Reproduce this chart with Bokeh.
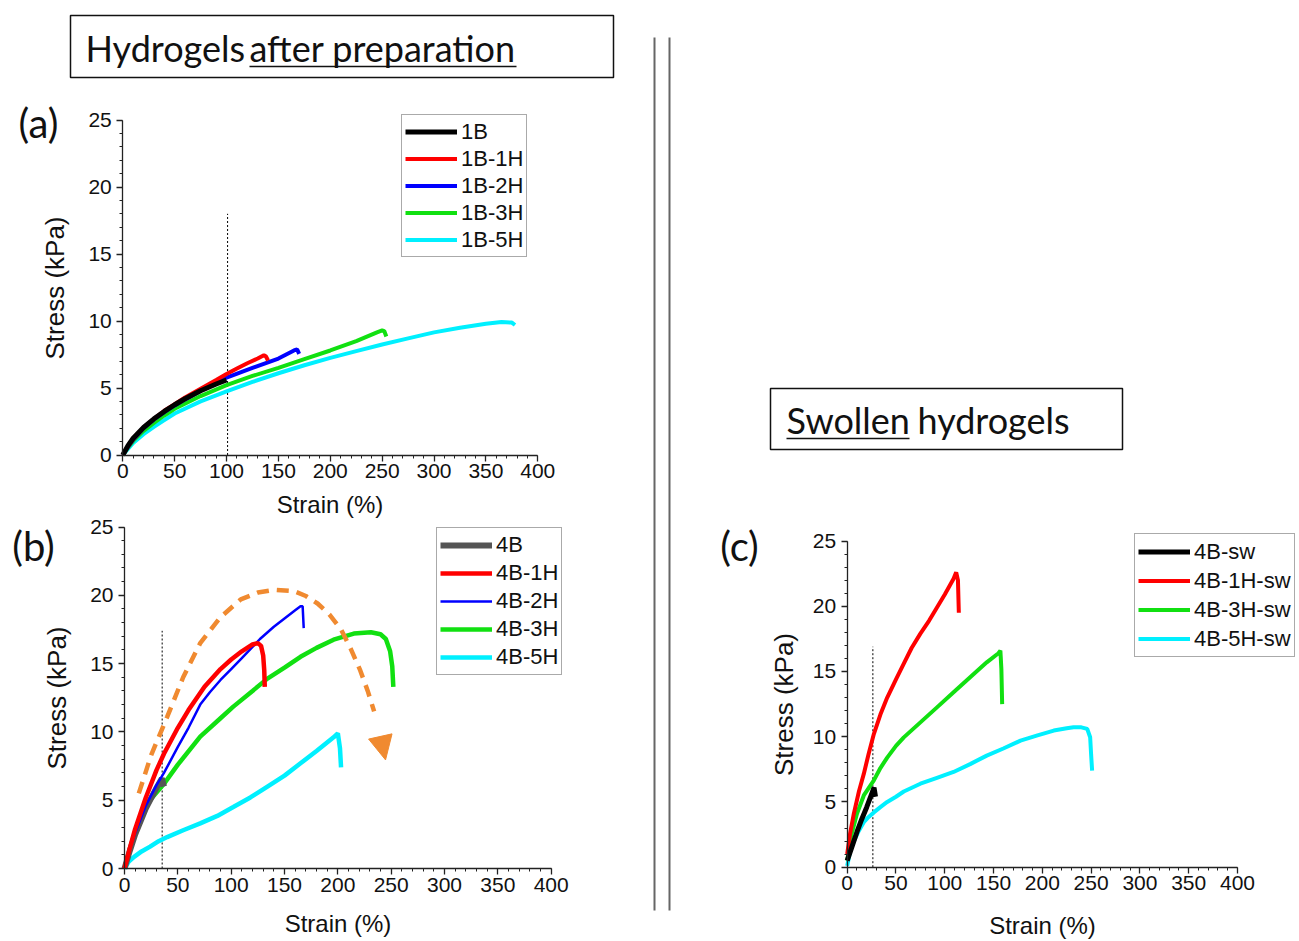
from bokeh.plotting import figure
from bokeh.models import (Range1d, SingleIntervalTicker, Legend, LegendItem, LinearAxis,
                          Arrow, NormalHead)
from bokeh.embed import file_html
from bokeh.resources import INLINE
from bokeh.core.properties import value

# ---------------- data: panel (a) hydrogels after preparation ----------------
a_1B_x = [0, 5, 10, 20, 30, 40, 50, 60, 75, 90, 100]
a_1B_y = [0, 0.7, 1.25, 2.05, 2.7, 3.25, 3.75, 4.2, 4.8, 5.3, 5.6]
a_1B1H_x = [0, 5, 10, 20, 30, 40, 50, 60, 75, 90, 100, 110, 120, 130, 136, 138, 140]
a_1B1H_y = [0, 0.65, 1.2, 2.05, 2.7, 3.3, 3.8, 4.3, 4.95, 5.6, 6.05, 6.45, 6.85, 7.2, 7.45, 7.35, 7.05]
a_1B2H_x = [0, 5, 10, 20, 30, 40, 50, 60, 75, 90, 100, 125, 150, 165, 168, 170]
a_1B2H_y = [0, 0.6, 1.15, 2.0, 2.65, 3.2, 3.7, 4.15, 4.8, 5.4, 5.78, 6.5, 7.2, 7.8, 7.88, 7.55]
a_1B3H_x = [0, 5, 10, 20, 30, 40, 50, 75, 100, 125, 150, 175, 200, 225, 245, 250, 252, 254]
a_1B3H_y = [0, 0.55, 1.05, 1.8, 2.4, 2.95, 3.45, 4.4, 5.22, 5.9, 6.5, 7.15, 7.8, 8.5, 9.15, 9.3, 9.25, 8.85]
a_1B5H_x = [0, 5, 10, 20, 30, 40, 50, 75, 100, 125, 150, 175, 200, 225, 250, 275, 300, 325, 350, 365, 375, 378]
a_1B5H_y = [0, 0.45, 0.9, 1.55, 2.1, 2.6, 3.1, 4.0, 4.75, 5.45, 6.1, 6.7, 7.25, 7.75, 8.25, 8.7, 9.15, 9.5, 9.8, 9.92, 9.88, 9.7]
a_mark_x = [101, 101]
a_mark_y = [0, 18]

# ---------------- data: panel (b) ----------------
b_4B_x = [0, 5, 10, 20, 30, 35, 37]
b_4B_y = [0, 1.3, 2.5, 4.4, 5.9, 6.6, 6.0]
b_4B1H_x = [0, 5, 10, 20, 30, 37, 50, 60, 75, 90, 100, 110, 120, 125, 128, 130, 131, 131.5]
b_4B1H_y = [0, 1.5, 2.9, 5.2, 7.2, 8.4, 10.3, 11.6, 13.3, 14.6, 15.3, 15.9, 16.4, 16.5, 16.3, 15.6, 14.5, 13.3]
b_4B2H_x = [0, 5, 10, 20, 30, 37, 50, 60, 71, 80, 90, 100, 110, 127, 140, 150, 160, 165, 167, 168]
b_4B2H_y = [0, 1.4, 2.6, 4.6, 6.1, 7.0, 8.9, 10.3, 12.0, 12.9, 13.8, 14.6, 15.4, 16.8, 17.7, 18.3, 18.9, 19.2, 19.2, 17.6]
b_4B3H_x = [0, 5, 10, 18, 25, 37, 50, 71, 90, 102, 120, 134, 150, 165, 180, 196, 215, 231, 240, 245, 249, 251, 252]
b_4B3H_y = [0, 1.4, 2.6, 4.3, 5.1, 6.2, 7.6, 9.65, 11.0, 11.85, 13.0, 13.9, 14.7, 15.5, 16.15, 16.75, 17.2, 17.3, 17.15, 16.8, 15.9, 14.8, 13.3]
b_4B5H_x = [0, 4, 9, 16, 24, 32, 40, 55, 71, 87, 102, 118, 134, 150, 165, 180, 196, 200, 202, 203]
b_4B5H_y = [0, 0.5, 0.85, 1.25, 1.6, 2.0, 2.3, 2.8, 3.3, 3.85, 4.5, 5.2, 6.0, 6.8, 7.7, 8.6, 9.6, 9.9, 8.8, 7.4]
b_mark_x = [35.3, 35.3]
b_mark_y = [0, 17.4]
b_trend_x = [13.4, 25, 40, 55, 71, 90, 109, 125, 140, 159, 170, 181, 192, 203, 212, 221, 228, 234]
b_trend_y = [5.5, 8.3, 11.1, 14.0, 16.5, 18.4, 19.7, 20.2, 20.4, 20.3, 19.95, 19.4, 18.6, 17.5, 16.1, 14.5, 13.0, 11.5]
b_trend_head = [236.0, 11.0, 244.7, 7.95]

# ---------------- data: panel (c) swollen hydrogels ----------------
c_4B_x = [0, 5, 10, 15, 20, 25, 27.5, 29]
c_4B_y = [0.5, 1.6, 2.7, 3.7, 4.6, 5.6, 6.1, 5.4]
c_4B1H_x = [0, 3, 6.8, 12, 17, 22, 27.3, 34, 41, 50, 58, 66, 75, 84, 92, 100, 109, 111.7, 113.5, 114.4]
c_4B1H_y = [1.0, 2.6, 4.1, 5.8, 7.15, 8.7, 10.2, 11.7, 13.0, 14.4, 15.6, 16.8, 17.9, 18.9, 19.9, 20.9, 22.1, 22.6, 22.0, 19.5]
c_4B3H_x = [0, 4, 10, 17, 27.3, 34, 41, 50, 58, 75, 92, 109, 126, 143, 155, 157, 158, 158.8]
c_4B3H_y = [0.5, 2.4, 4.1, 5.5, 6.65, 7.6, 8.4, 9.3, 9.95, 11.1, 12.25, 13.4, 14.55, 15.7, 16.4, 16.6, 15.2, 12.5]
c_4B5H_x = [0, 3, 6.8, 12, 17, 22, 27.3, 34, 41, 50, 58, 75, 92, 109, 126, 143, 160, 177.6, 195, 211.7, 225, 232, 240, 246, 249, 250, 251]
c_4B5H_y = [0.1, 1.2, 2.0, 2.8, 3.45, 3.85, 4.2, 4.6, 5.0, 5.4, 5.8, 6.4, 6.85, 7.3, 7.9, 8.55, 9.1, 9.7, 10.1, 10.47, 10.65, 10.73, 10.72, 10.6, 9.96, 8.6, 7.4]
c_mark_x = [26.3, 26.3]
c_mark_y = [0, 16.9]

x_axis_bounds = (0, 400)
y_axis_bounds = (0, 25)
x_ticks_interval = 50
y_ticks_interval = 5

RED = "#FF0000"
BLUE = "#0000FF"
GREEN = "#11E011"
CYAN = "#00F0FF"
ORANGE = "#F08A30"
INK = "#111111"
AXFONT = "Liberation Sans"
TFONT = "Lato"

W, H = 1299, 941

# one canvas; default ranges are pixel coordinates (y down) for the decorations
p = figure(width=W, height=H, x_range=Range1d(0, W), y_range=Range1d(H, 0),
           x_axis_type=None, y_axis_type=None, toolbar_location=None,
           output_backend="svg", min_border=0)
p.outline_line_color = None
p.background_fill_color = "white"
p.border_fill_color = "white"


def add_panel(key, x0px, x400px, y0px, y25px, xs, ys):
    """Data ranges for one panel, placed so that its axes land where the reference has them."""
    kx = (x400px - x0px) / (x_axis_bounds[1] - x_axis_bounds[0])
    ky = (y0px - y25px) / (y_axis_bounds[1] - y_axis_bounds[0])
    xstart = x_axis_bounds[0] - x0px / kx
    ystart = y_axis_bounds[0] - (H - y0px) / ky
    p.extra_x_ranges[key + "x"] = Range1d(xstart, xstart + W / kx)
    p.extra_y_ranges[key + "y"] = Range1d(ystart, ystart + H / ky)
    xr, yr = key + "x", key + "y"
    xa = LinearAxis(x_range_name=xr, y_range_name=yr, fixed_location=0, bounds=x_axis_bounds,
                    ticker=SingleIntervalTicker(interval=x_ticks_interval, num_minor_ticks=5),
                    axis_label="Strain (%)")
    ya = LinearAxis(x_range_name=xr, y_range_name=yr, fixed_location=0, bounds=y_axis_bounds,
                    ticker=SingleIntervalTicker(interval=y_ticks_interval, num_minor_ticks=5),
                    axis_label="Stress (kPa)")
    for ax in (xa, ya):
        ax.axis_line_color = "#222222"
        ax.axis_line_width = 1.3
        ax.major_tick_line_color = "#222222"
        ax.minor_tick_line_color = "#222222"
        ax.major_tick_line_width = 1.3
        ax.major_tick_in = 0
        ax.major_tick_out = 6
        ax.minor_tick_in = 0
        ax.minor_tick_out = 3
        ax.major_label_text_font = AXFONT
        ax.major_label_text_font_size = "21px"
        ax.major_label_text_color = INK
        ax.axis_label_text_font = AXFONT
        ax.axis_label_text_font_style = "normal"
        ax.axis_label_text_color = INK
    xa.axis_label_text_font_size = "24px"
    ya.axis_label_text_font_size = "26px"
    xa.major_label_standoff = 3
    ya.major_label_standoff = 5
    xa.axis_label_standoff = xs
    ya.axis_label_standoff = ys
    p.add_layout(xa, "below")
    p.add_layout(ya, "left")
    return dict(x_range_name=xr, y_range_name=yr)


def add_legend(items, left_px, bottom_px, row_h):
    lg = Legend(items=[LegendItem(label=l, renderers=[r]) for l, r in items],
                location=(left_px, H - bottom_px), orientation="vertical", margin=0, padding=3,
                spacing=0, glyph_width=52, glyph_height=row_h, label_height=row_h,
                label_standoff=4, border_line_color="#555555", border_line_width=1,
                label_text_font=AXFONT, label_text_font_size="22px",
                label_text_color=INK, background_fill_alpha=1.0)
    p.add_layout(lg)


def deco_text(x, y, txt, size="36px"):
    p.text(x=[x], y=[y], text=[txt], text_font=value(TFONT), text_font_size=size,
           text_align="left", text_baseline="middle", text_color=INK)


# ---------------- decorations ----------------
p.quad(left=[70, 770], right=[613, 1122], top=[15, 388], bottom=[77, 449],
       fill_color=None, line_color=INK, line_width=1.5)
deco_text(85, 47, "Hydrogels")
deco_text(249, 47, "after preparation")
p.segment(x0=[249], y0=[66], x1=[516], y1=[66], line_color=INK, line_width=1.5)
deco_text(786, 419, "Swollen")
deco_text(917, 419, "hydrogels")
p.segment(x0=[786], y0=[438], x1=[909], y1=[438], line_color=INK, line_width=1.5)
p.segment(x0=[654, 669], y0=[37, 37], x1=[654, 669], y1=[910, 910],
          line_color="#666666", line_width=2)
p.text(x=[38, 33, 739], y=[122, 545, 545], text=["(a)", "(b)", "(c)"], text_font=value(TFONT),
       text_font_size="40px", text_align="center", text_baseline="middle", text_color=INK)

# ---------------- panel (a) ----------------
ka = add_panel("a", 122.3, 537.3, 454.5, 119.5, 9, 15)
p.line(a_mark_x, a_mark_y, line_color="black", line_width=1, line_dash="2 2", **ka)
ra5 = p.line(a_1B5H_x, a_1B5H_y, line_color=CYAN, line_width=4, **ka)
ra3 = p.line(a_1B3H_x, a_1B3H_y, line_color=GREEN, line_width=4, **ka)
ra2 = p.line(a_1B2H_x, a_1B2H_y, line_color=BLUE, line_width=4, **ka)
ra1 = p.line(a_1B1H_x, a_1B1H_y, line_color=RED, line_width=4, **ka)
ra0 = p.line(a_1B_x, a_1B_y, line_color="black", line_width=5, **ka)
add_legend([("1B", ra0), ("1B-1H", ra1), ("1B-2H", ra2), ("1B-3H", ra3), ("1B-5H", ra5)],
           401, 257, 27)

# ---------------- panel (b) ----------------
kb = add_panel("b", 124, 550.7, 868, 526.5, 15, 15)
p.line(b_mark_x, b_mark_y, line_color="black", line_width=1, line_dash="2 2", **kb)
rb5 = p.line(b_4B5H_x, b_4B5H_y, line_color=CYAN, line_width=4.5, **kb)
rb3 = p.line(b_4B3H_x, b_4B3H_y, line_color=GREEN, line_width=4.5, **kb)
rb0 = p.line(b_4B_x, b_4B_y, line_color="#555555", line_width=6, **kb)
rb2 = p.line(b_4B2H_x, b_4B2H_y, line_color=BLUE, line_width=2.5, **kb)
rb1 = p.line(b_4B1H_x, b_4B1H_y, line_color=RED, line_width=4.5, **kb)
p.line(b_trend_x, b_trend_y, line_color=ORANGE, line_width=4.5, line_dash="12 8", **kb)
p.add_layout(Arrow(x_start=b_trend_head[0], y_start=b_trend_head[1],
                   x_end=b_trend_head[2], y_end=b_trend_head[3], line_alpha=0,
                   end=NormalHead(size=24, fill_color=ORANGE, line_color=ORANGE), **kb))
add_legend([("4B", rb0), ("4B-1H", rb1), ("4B-2H", rb2), ("4B-3H", rb3), ("4B-5H", rb5)],
           436, 675, 28)

# ---------------- panel (c) ----------------
kc = add_panel("c", 846.7, 1237, 866.7, 540.5, 18, 11)
p.line(c_mark_x, c_mark_y, line_color="black", line_width=1, line_dash="2 2", **kc)
rc5 = p.line(c_4B5H_x, c_4B5H_y, line_color=CYAN, line_width=4, **kc)
rc3 = p.line(c_4B3H_x, c_4B3H_y, line_color=GREEN, line_width=4, **kc)
rc1 = p.line(c_4B1H_x, c_4B1H_y, line_color=RED, line_width=4, **kc)
rc0 = p.line(c_4B_x, c_4B_y, line_color="black", line_width=5, **kc)
add_legend([("4B-sw", rc0), ("4B-1H-sw", rc1), ("4B-3H-sw", rc3), ("4B-5H-sw", rc5)],
           1134, 657, 29)

open("out.html", "w").write(file_html(p, INLINE))
